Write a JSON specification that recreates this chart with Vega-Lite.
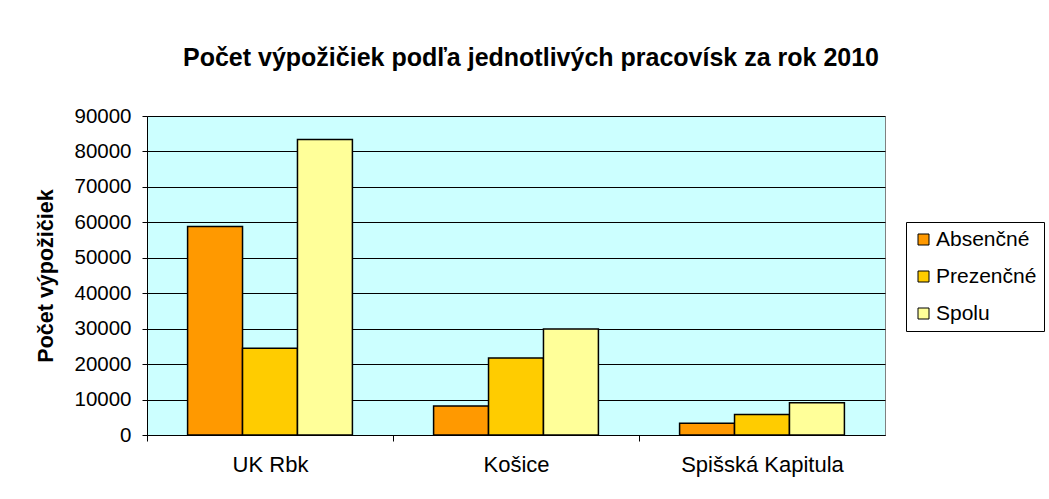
{
  "$schema": "https://vega.github.io/schema/vega-lite/v6.json",
  "width": 738,
  "height": 319,
  "autosize": {"type": "none"},
  "padding": {"left": 147, "top": 116, "right": 164, "bottom": 64},
  "background": "white",
  "title": {
    "text": "Počet výpožičiek podľa jednotlivých pracovísk za rok 2010",
    "font": "Liberation Sans",
    "fontSize": 25,
    "fontWeight": "bold",
    "color": "black",
    "anchor": "middle",
    "dx": 15,
    "offset": 35
  },
  "data": {
    "values": [
      {"pracovisko": "UK Rbk", "typ": "Absenčné", "pocet": 58800},
      {"pracovisko": "UK Rbk", "typ": "Prezenčné", "pocet": 24500},
      {"pracovisko": "UK Rbk", "typ": "Spolu", "pocet": 83400},
      {"pracovisko": "Košice", "typ": "Absenčné", "pocet": 8200},
      {"pracovisko": "Košice", "typ": "Prezenčné", "pocet": 21700},
      {"pracovisko": "Košice", "typ": "Spolu", "pocet": 29900},
      {"pracovisko": "Spišská Kapitula", "typ": "Absenčné", "pocet": 3300},
      {"pracovisko": "Spišská Kapitula", "typ": "Prezenčné", "pocet": 5800},
      {"pracovisko": "Spišská Kapitula", "typ": "Spolu", "pocet": 9100}
    ]
  },
  "mark": {"type": "bar", "stroke": "black", "strokeWidth": 1.5},
  "encoding": {
    "x": {
      "field": "pracovisko",
      "type": "nominal",
      "sort": ["UK Rbk", "Košice", "Spišská Kapitula"],
      "scale": {"paddingInner": 0.33, "paddingOuter": 0.165},
      "axis": {
        "title": null,
        "labelAngle": 0,
        "tickOffset": -123,
        "labelOffset": 123,
        "domainColor": "black",
        "tickColor": "black",
        "tickSize": 6,
        "labelFont": "Liberation Sans",
        "labelFontSize": 22,
        "labelColor": "black",
        "labelPadding": 13
      }
    },
    "xOffset": {"field": "typ", "sort": ["Absenčné", "Prezenčné", "Spolu"]},
    "y": {
      "field": "pocet",
      "type": "quantitative",
      "scale": {"domain": [0, 90000], "nice": false},
      "axis": {
        "title": "Počet výpožičiek",
        "titleFont": "Liberation Sans",
        "titleFontSize": 21.5,
        "titleFontWeight": "bold",
        "titleColor": "black",
        "titlePadding": 16,
        "values": [0, 10000, 20000, 30000, 40000, 50000, 60000, 70000, 80000, 90000],
        "format": "d",
        "labelFont": "Liberation Sans",
        "labelFontSize": 20.5,
        "labelColor": "black",
        "labelPadding": 11,
        "tickSize": 5,
        "tickColor": "black",
        "domainColor": "black",
        "gridColor": "black",
        "gridOpacity": 1,
        "gridWidth": 1
      }
    },
    "color": {
      "field": "typ",
      "type": "nominal",
      "scale": {
        "domain": ["Absenčné", "Prezenčné", "Spolu"],
        "range": ["#FF9900", "#FFCC00", "#FFFF99"]
      },
      "legend": {
        "title": null,
        "orient": "none",
        "legendX": 759,
        "legendY": 106,
        "padding": 7,
        "strokeColor": "black",
        "fillColor": "white",
        "symbolType": "square",
        "symbolSize": 121,
        "symbolStrokeColor": "black",
        "symbolStrokeWidth": 1,
        "labelFont": "Liberation Sans",
        "labelFontSize": 21,
        "labelColor": "black",
        "labelOffset": 2,
        "rowPadding": 15
      }
    }
  },
  "config": {
    "view": {"fill": "#CCFFFF", "stroke": "#808080"}
  }
}
